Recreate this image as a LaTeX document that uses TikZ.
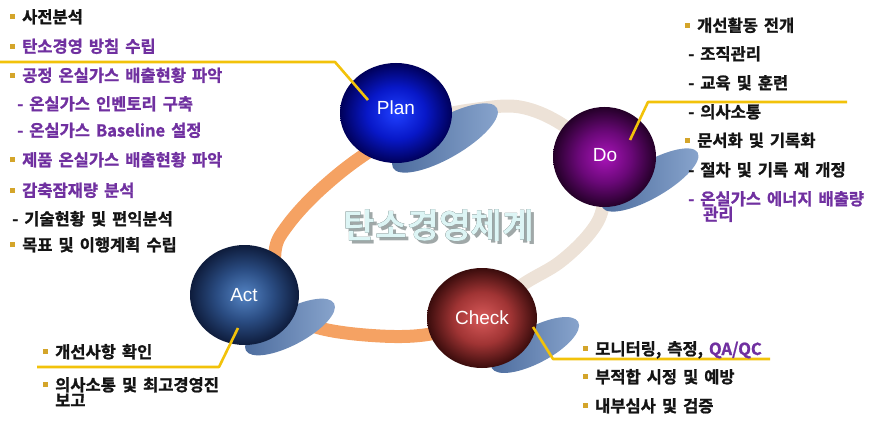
\documentclass[tikz,border=0pt]{standalone}
\usepackage{fontspec}
\usepackage{pdfrender}
\setmainfont{Liberation Sans}
\newfontfamily\krb{Noto Sans CJK KR Bold}[FakeBold=1.2, WordSpace=1.6]
\newfontfamily\krt{Noto Sans CJK KR Bold}
\usetikzlibrary{shapes.geometric}
\definecolor{tblack}{HTML}{141414}
\definecolor{tpurp}{HTML}{7030A0}
\definecolor{bulgold}{HTML}{D4A52A}
\definecolor{lineyel}{HTML}{F2C20A}
\definecolor{ringor}{HTML}{F5A263}
\definecolor{ringbg}{HTML}{EDE2D7}
\definecolor{shdark}{HTML}{4A6A9C}
\definecolor{shlight}{HTML}{8AA6CE}
\definecolor{titlefill}{HTML}{DDF5F5}
\definecolor{titleline}{HTML}{23302F}
\definecolor{titleshadow}{HTML}{A0A8A8}
\definecolor{planA}{HTML}{2040FF}\definecolor{planB}{HTML}{0818C8}\definecolor{planC}{HTML}{00005A}
\definecolor{doA}{HTML}{A814B8}\definecolor{doB}{HTML}{6A0878}\definecolor{doC}{HTML}{240028}
\definecolor{chA}{HTML}{D85A5A}\definecolor{chB}{HTML}{A03434}\definecolor{chC}{HTML}{3A0C0C}
\definecolor{acA}{HTML}{5484C4}\definecolor{acB}{HTML}{2A4C82}\definecolor{acC}{HTML}{0E1C3C}
\pgfdeclareradialshading{planball}{\pgfpoint{0bp}{0bp}}{color(0bp)=(planA); color(13bp)=(planB); color(25bp)=(planC); color(50bp)=(planC)}
\pgfdeclareradialshading{doball}{\pgfpoint{0bp}{0bp}}{color(0bp)=(doA); color(13bp)=(doB); color(25bp)=(doC); color(50bp)=(doC)}
\pgfdeclareradialshading{chball}{\pgfpoint{0bp}{0bp}}{color(0bp)=(chA); color(13bp)=(chB); color(25bp)=(chC); color(50bp)=(chC)}
\pgfdeclareradialshading{acball}{\pgfpoint{0bp}{0bp}}{color(0bp)=(acA); color(13bp)=(acB); color(25bp)=(acC); color(50bp)=(acC)}
\newcommand\mybul{\textcolor{bulgold}{\rule[3.8pt]{5pt}{5pt}}\hspace{7pt}}
\newcommand\strokedtext[2]{\textpdfrender{TextRenderingMode=FillStroke, LineWidth=#1}{#2}}
\tikzset{
  txt/.style={anchor=base west, inner sep=0pt, text=tblack,
    font=\krb\fontsize{16.5}{18}\selectfont},
  ptxt/.style={txt, text=tpurp},
  conn/.style={draw=lineyel, line width=2.6pt, line join=round},
  ringline/.style={line width=13pt, line cap=round},
  ballnode/.style={ellipse, inner sep=0pt, shade},
  balltxt/.style={inner sep=0pt, text=white, font=\fontsize{19}{19}\selectfont},
  shadowst/.style={ellipse, inner sep=0pt, left color=shdark, right color=shlight},
  titletxt/.style={inner sep=0pt, font=\krt\fontsize{34.5}{36}\selectfont}
}
\begin{document}
\begin{tikzpicture}[x=1pt,y=1pt]
\useasboundingbox (0,0) rectangle (892,-425);
% ring
\draw[ringline, draw=ringbg] plot[smooth, tension=0.6] coordinates {(490,-308) (525,-283) (560,-262) (590,-233) (603,-207) (606,-165) (566,-127) (520,-107) (470,-110) (430,-118)};
\draw[ringline, draw=ringor] plot[smooth, tension=0.6] coordinates {(430,-118) (367,-153) (320,-190) (287,-226) (275,-252) (280,-295) (310,-325) (380,-336) (440,-332) (490,-308)};
% shadows
\node[shadowst, minimum width=120, minimum height=40, rotate=30] (plan-sh) at (445,-138) {};
\node[shadowst, minimum width=110, minimum height=36, rotate=30] (do-sh) at (650,-180) {};
\node[shadowst, minimum width=98, minimum height=36, rotate=28] (check-sh) at (535,-345) {};
\node[shadowst, minimum width=100, minimum height=36, rotate=28] (act-sh) at (290,-327) {};
% balls
\node[ballnode, shading=planball, minimum width=112, minimum height=100] (plan) at (396,-113) {};
\node[ballnode, shading=doball, minimum width=103, minimum height=100] (do) at (604.5,-157) {};
\node[ballnode, shading=chball, minimum width=110, minimum height=100] (check) at (482,-318) {};
\node[ballnode, shading=acball, minimum width=109, minimum height=100] (act) at (244.5,-295) {};
\node[balltxt] (plan-t) at (396,-108) {Plan};
\node[balltxt] (do-t) at (605,-155) {Do};
\node[balltxt] (check-t) at (482,-318) {Check};
\node[balltxt] (act-t) at (244,-295) {Act};
% title: shadow, dark outline, light face
\node[titletxt, text=titleshadow] (title-sh) at (442,-229) {\strokedtext{3}{탄소경영체계}};
\node[titletxt, text=titleline] (title-ol) at (439,-226) {\strokedtext{3}{탄소경영체계}};
\node[titletxt, text=titlefill] (title) at (439,-226) {탄소경영체계};
% connectors
\coordinate (pA) at (0,-62); \coordinate (pB) at (335,-62); \coordinate (pC) at (368,-100);
\coordinate (dA) at (630,-140); \coordinate (dB) at (648,-102); \coordinate (dC) at (847,-102);
\coordinate (cA) at (533,-327); \coordinate (cB) at (553,-359); \coordinate (cC) at (770,-359);
\coordinate (aA) at (238,-328); \coordinate (aB) at (219,-367); \coordinate (aC) at (37,-367);
\draw[conn] (pA) -- (pB) -- (pC);
\draw[conn] (dA) -- (dB) -- (dC);
\draw[conn] (cA) -- (cB) -- (cC);
\draw[conn] (aA) -- (aB) -- (aC);
% left text (Plan)
\node[txt]  (l1) at (10,-23) {\mybul 사전분석};
\node[ptxt] (l2) at (10,-52.5) {\mybul 탄소경영 방침 수립};
\node[ptxt] (l3) at (10,-81.5) {\mybul 공정 온실가스 배출현황 파악};
\node[ptxt] (l4) at (17,-110) {- 온실가스 인벤토리 구축};
\node[ptxt] (l5) at (17,-136.5) {- 온실가스 Baseline 설정};
\node[ptxt] (l6) at (10,-166) {\mybul 제품 온실가스 배출현황 파악};
\node[ptxt] (l7) at (10,-196.5) {\mybul 감축잠재량 분석};
\node[txt]  (l8) at (12,-225) {- 기술현황 및 편익분석};
\node[txt]  (l9) at (10,-251) {\mybul 목표 및 이행계획 수립};
% right text (Do)
\node[txt] (r1) at (685,-31.5) {\mybul 개선활동 전개};
\node[txt] (r2) at (688,-60) {- 조직관리};
\node[txt] (r3) at (688,-89) {- 교육 및 훈련};
\node[txt] (r4) at (688,-118) {- 의사소통};
\node[txt] (r5) at (685,-146.5) {\mybul 문서화 및 기록화};
\node[txt] (r6) at (688,-176) {- 절차 및 기록 재 개정};
\node[ptxt] (r7) at (688,-205) {- 온실가스 에너지 배출량};
\node[ptxt] (r8) at (703,-220.5) {관리};
% check text
\node[txt] (c1) at (583,-355) {\mybul 모니터링, 측정, \textcolor{tpurp}{QA/QC}};
\node[txt] (c2) at (583,-383) {\mybul 부적합 시정 및 예방};
\node[txt] (c3) at (583,-412) {\mybul 내부심사 및 검증};
% act text
\node[txt] (a1) at (43,-358) {\mybul 개선사항 확인};
\node[txt] (a2) at (43,-391) {\mybul 의사소통 및 최고경영진};
\node[txt] (a3) at (55,-406.5) {보고};
\end{tikzpicture}
\end{document}
